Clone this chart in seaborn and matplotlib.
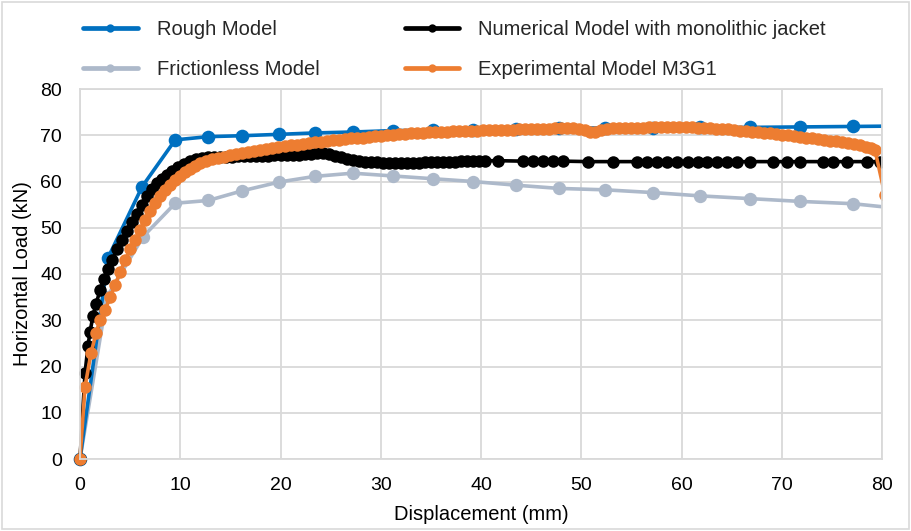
import matplotlib
matplotlib.use("Agg")
import matplotlib.pyplot as plt
import seaborn as sns
from matplotlib.patches import Rectangle
from matplotlib.lines import Line2D

# ---------------- data ----------------
rough_x = [0, 2.8, 6.2, 9.5, 12.8, 16.2, 19.9, 23.4, 27.2, 31.2, 35.2, 39.2, 43.5,
           47.8, 52.4, 57.2, 61.8, 66.8, 71.8, 77.1, 82.0]
rough_y = [0, 43.5, 58.9, 69.0, 69.7, 69.9, 70.2, 70.5, 70.7, 71.0, 71.1, 71.2, 71.4,
           71.5, 71.6, 71.6, 71.7, 71.7, 71.8, 71.9, 72.0]

fric_x = [0, 2.7, 6.3, 9.5, 12.8, 16.2, 19.9, 23.4, 27.2, 31.2, 35.2, 39.2, 43.5,
          47.8, 52.4, 57.2, 61.8, 66.8, 71.8, 77.1, 82.0]
fric_y = [0, 35.1, 48.1, 55.3, 55.9, 58.0, 59.9, 61.1, 61.8, 61.2, 60.6, 60.0, 59.2,
          58.5, 58.2, 57.6, 56.9, 56.3, 55.7, 55.2, 54.1]

num_x = [0, 0.5, 0.8, 1.0, 1.3, 1.6, 2.0, 2.4, 2.8, 3.2, 3.7, 4.2, 4.7, 5.2, 5.7,
         6.2, 6.7, 7.2, 7.7, 8.2, 8.7, 9.2, 9.8, 10.4, 11.0, 11.6, 12.2, 12.8, 13.4,
         14.0, 14.6, 15.2, 15.8, 16.4, 17.0, 17.6, 18.2, 18.8, 19.4, 20.0, 20.6,
         21.2, 21.8, 22.4, 23.0, 23.6, 24.2, 24.8, 25.4, 26.0, 26.6, 27.2, 27.8,
         28.4, 29.0, 29.6, 30.2, 30.8, 31.4, 32.0, 32.6, 33.2, 33.8, 34.4, 35.0,
         35.6, 36.2, 36.8, 37.4, 38.0, 38.6, 39.2, 39.8, 40.4, 41.7, 44.2, 45.2,
         46.2, 47.2, 48.2, 50.7, 53.2, 55.6, 56.6, 57.6, 58.6, 59.6, 60.6, 61.6,
         62.5, 63.5, 64.5, 65.5, 66.8, 69.1, 70.5, 71.8, 74.1, 75.1, 76.5, 78.5, 79.8]
num_y = [0, 18.5, 24.5, 27.5, 31.0, 33.5, 36.5, 39.0, 41.0, 43.0, 45.3, 47.4, 49.4,
         51.2, 53.0, 54.9, 56.8, 58.3, 59.6, 60.6, 61.5, 62.3, 63.1, 63.8, 64.4,
         64.8, 65.1, 65.2, 65.3, 65.4, 65.4, 65.4, 65.5, 65.5, 65.5, 65.6, 65.6,
         65.6, 65.7, 65.7, 65.7, 65.8, 65.8, 65.9, 66.0, 66.1, 66.1, 65.9, 65.6,
         65.2, 64.9, 64.6, 64.4, 64.3, 64.3, 64.2, 64.1, 64.0, 63.9, 63.9, 64.0,
         64.1, 64.1, 64.2, 64.2, 64.2, 64.3, 64.3, 64.3, 64.4, 64.4, 64.4, 64.4,
         64.5, 64.5, 64.4, 64.4, 64.4, 64.4, 64.4, 64.3, 64.3, 64.3, 64.3, 64.3,
         64.3, 64.3, 64.3, 64.3, 64.3, 64.3, 64.3, 64.3, 64.3, 64.3, 64.3, 64.3,
         64.3, 64.3, 64.3, 64.3, 64.3]

exp_x = [0, 0.5, 1.1, 1.6, 2.0, 2.5, 3.0, 3.5, 4.0, 4.5, 5.0, 5.5, 6.0, 6.5, 7.0,
         7.5, 8.0, 8.5, 9.0, 9.5, 10.0, 10.5, 11.0, 11.5, 12.0, 12.6, 13.2, 13.8,
         14.4, 15.0, 15.6, 16.2, 16.8, 17.4, 18.0, 18.6, 19.2, 19.8, 20.4, 21.0,
         21.6, 22.2, 22.8, 23.4, 24.0, 24.6, 25.2, 25.8, 26.4, 27.0, 27.6, 28.2,
         28.8, 29.4, 30.0, 30.6, 31.2, 31.8, 32.4, 33.0, 33.6, 34.2, 34.8, 35.4,
         36.0, 36.6, 37.2, 37.8, 38.4, 39.0, 39.6, 40.2, 40.8, 41.4, 42.0, 42.6,
         43.2, 43.8, 44.4, 45.0, 45.6, 46.2, 46.8, 47.4, 48.0, 48.6, 49.2, 49.8,
         50.4, 50.9, 51.4, 52.0, 52.6, 53.2, 53.8, 54.4, 55.0, 55.6, 56.2, 56.8,
         57.4, 58.0, 58.6, 59.2, 59.8, 60.4, 61.0, 61.6, 62.2, 62.8, 63.4, 64.0,
         64.6, 65.2, 65.8, 66.4, 67.0, 67.6, 68.2, 68.8, 69.4, 70.0, 70.6, 71.2,
         71.8, 72.4, 73.0, 73.6, 74.2, 74.8, 75.4, 76.0, 76.6, 77.2, 77.8, 78.4,
         78.9, 79.3, 80.3]
exp_y = [0, 15.6, 22.9, 27.2, 30.0, 32.2, 35.0, 37.6, 40.4, 43.0, 45.3, 47.4, 49.6,
         51.7, 53.6, 55.3, 56.8, 58.2, 59.3, 60.3, 61.2, 62.0, 62.7, 63.4, 63.9,
         64.4, 64.8, 65.1, 65.4, 65.7, 65.9, 66.1, 66.4, 66.7, 66.8, 67.0, 67.3,
         67.5, 67.6, 67.8, 68.0, 68.2, 68.3, 68.5, 68.6, 68.7, 68.9, 69.0, 69.2,
         69.3, 69.4, 69.5, 69.6, 69.8, 69.9, 70.0, 70.1, 70.2, 70.3, 70.4, 70.4,
         70.5, 70.6, 70.7, 70.7, 70.8, 70.9, 70.9, 71.0, 71.0, 71.0, 71.1, 71.1,
         71.1, 71.2, 71.2, 71.2, 71.3, 71.3, 71.3, 71.4, 71.4, 71.4, 71.5, 71.5,
         71.5, 71.5, 71.4, 71.2, 70.6, 70.8, 71.2, 71.4, 71.5, 71.5, 71.5, 71.6,
         71.6, 71.6, 71.7, 71.7, 71.7, 71.8, 71.8, 71.7, 71.7, 71.7, 71.6, 71.5,
         71.5, 71.4, 71.3, 71.3, 71.2, 71.0, 70.9, 70.8, 70.6, 70.5, 70.4, 70.2,
         70.1, 70.0, 69.8, 69.7, 69.5, 69.3, 69.1, 69.0, 68.8, 68.7, 68.5, 68.3,
         68.1, 67.8, 67.5, 67.2, 66.8, 57.0]

x_ticks = [0, 10, 20, 30, 40, 50, 60, 70, 80]
y_ticks = [0, 10, 20, 30, 40, 50, 60, 70, 80]

labels = ["Rough Model", "Frictionless Model",
          "Numerical Model with monolithic jacket", "Experimental Model M3G1"]
colors = ["#0070C0", "#ADB9CA", "#000000", "#ED7D31"]

# ---------------- style ----------------
sns.set_theme(style="white")
plt.rcParams["font.family"] = ["Liberation Sans", "DejaVu Sans"]

fig = plt.figure(figsize=(9.11, 5.31), dpi=100)
ax = fig.add_axes([80 / 911, 1 - 459 / 531, 802 / 911, 370 / 531])

series = [
    (fric_x, fric_y, colors[1], 9.6, 2.6),
    (rough_x, rough_y, colors[0], 9.8, 2.6),
    (num_x, num_y, colors[2], 9.0, 2.6),
    (exp_x, exp_y, colors[3], 9.0, 2.6),
]
clip_box = Rectangle((-5, -5), 85, 95, transform=ax.transData)
for xs, ys, c, ms, lw in series:
    sns.lineplot(x=xs, y=ys, ax=ax, sort=False, estimator=None, color=c,
                 marker="o", markersize=ms, markeredgewidth=0, linewidth=lw,
                 legend=False)
    ax.lines[-1].set_clip_path(clip_box)

ax.set_xlim(0, 80)
ax.set_ylim(0, 80)
ax.set_xticks(x_ticks)
ax.set_yticks(y_ticks)
ax.set_xticklabels([str(t) for t in x_ticks], fontsize=14)
ax.set_yticklabels([str(t) for t in y_ticks], fontsize=14)
ax.tick_params(axis="both", length=0, pad=13, colors="#000000")
ax.grid(True, color="#D9D9D9", linewidth=1.3)
for s in ax.spines.values():
    s.set_color("#D9D9D9")
    s.set_linewidth(1.3)
ax.set_xlabel("Displacement (mm)", fontsize=14.5, color="#000000", labelpad=8)
ax.set_ylabel("Horizontal Load (kN)", fontsize=14.5, color="#000000", labelpad=6)

# legend (two columns, rough/frictionless left, numerical/experimental right)
handles = [Line2D([0], [0], color=c, lw=3.4, marker="o", markersize=6,
                  markeredgewidth=0) for c in colors]
fig.legend(handles, labels, loc="upper left", bbox_to_anchor=(65 / 911, 1 - 2 / 531),
           ncol=2, frameon=False, fontsize=14.5, handlelength=2.7,
           handletextpad=0.95, columnspacing=4.25, labelspacing=1.05)

# outer chart border
fig.patches.append(Rectangle((0.002, 0.003), 0.996, 0.994, transform=fig.transFigure,
                             fill=False, edgecolor="#D9D9D9", linewidth=1.2))

fig.savefig("out.png", dpi=100, facecolor="white")
